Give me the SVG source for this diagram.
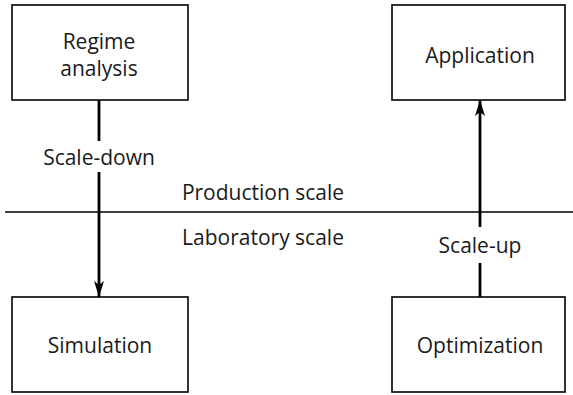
<svg xmlns="http://www.w3.org/2000/svg" width="573" height="395" viewBox="0 0 573 395">
<style>
.box{fill:#fff;stroke:#000;stroke-width:1.6}
.t{font-family:"Open Sans","DejaVu Sans",sans-serif;font-size:21px;fill:#1a1a1a;text-anchor:middle}
.c{stroke:#000;stroke-width:2.8;fill:none}
.h{stroke:#000;stroke-width:1.6}
</style>
<defs>
<marker id="ah" viewBox="0 0 16 10" refX="16" refY="5" markerWidth="5.7" markerHeight="3.6" orient="auto" markerUnits="strokeWidth">
<path d="M0,0 L16,5 L0,10 L4,5 Z" fill="#000"/>
</marker>
</defs>
<rect width="573" height="395" fill="#fff"/>
<g id="divider">
<line class="h" x1="5" y1="212" x2="573" y2="212"/>
<text class="t" x="263" y="200">Production scale</text>
<text class="t" x="263" y="245">Laboratory scale</text>
</g>
<g id="connectors">
<line class="c" x1="99" y1="100" x2="99" y2="141"/>
<line class="c" x1="99" y1="172" x2="99" y2="297" marker-end="url(#ah)"/>
<text class="t" x="99" y="165">Scale-down</text>
<line class="c" x1="480" y1="297" x2="480" y2="263"/>
<line class="c" x1="480" y1="227" x2="480" y2="100" marker-end="url(#ah)"/>
<text class="t" x="480" y="253">Scale-up</text>
</g>
<g id="regime">
<rect class="box" x="12" y="5" width="176" height="95"/>
<text class="t" x="99" y="49">Regime</text>
<text class="t" x="99" y="76">analysis</text>
</g>
<g id="application">
<rect class="box" x="392" y="5" width="173" height="95"/>
<text class="t" x="480" y="63">Application</text>
</g>
<g id="simulation">
<rect class="box" x="12" y="297" width="176" height="95"/>
<text class="t" x="100" y="353">Simulation</text>
</g>
<g id="optimization">
<rect class="box" x="392" y="297" width="173" height="95"/>
<text class="t" x="480" y="353">Optimization</text>
</g>
</svg>
